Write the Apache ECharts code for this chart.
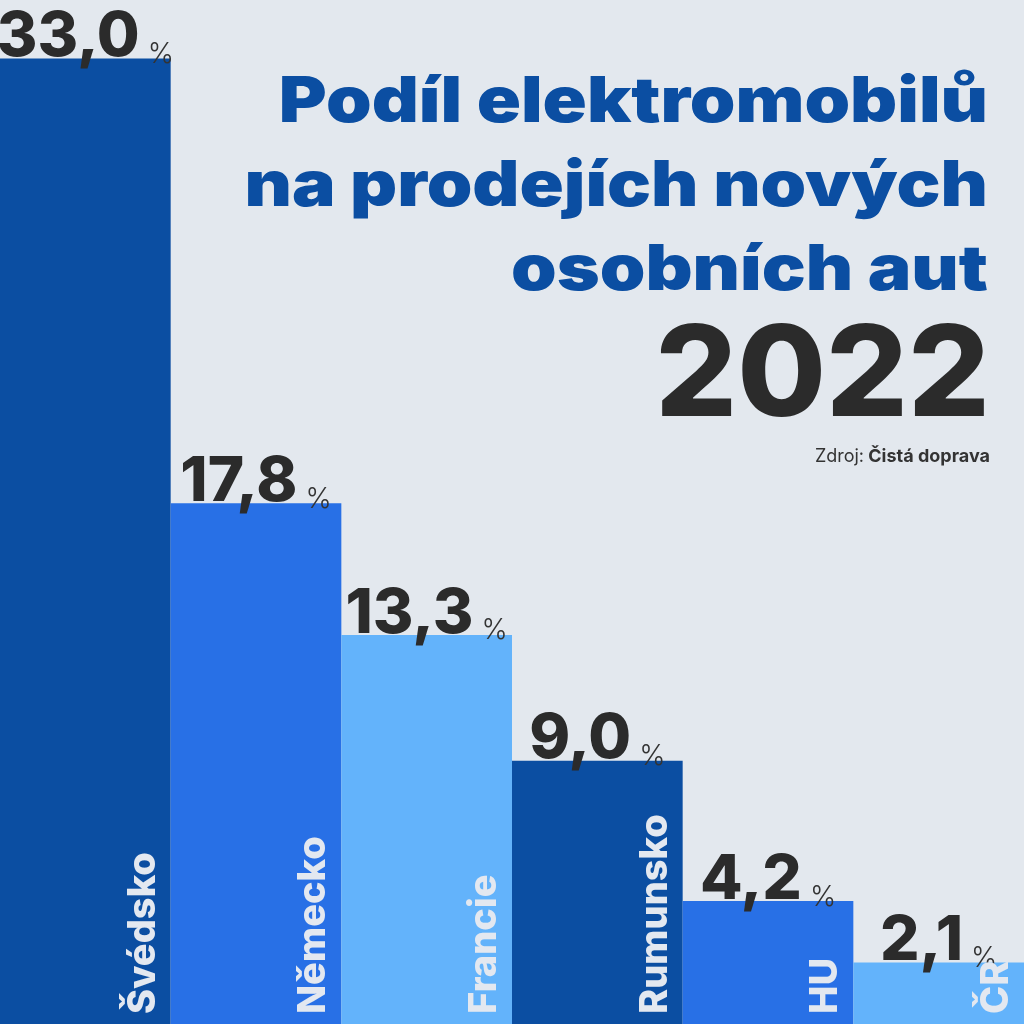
<!DOCTYPE html>
<html>
<head>
<meta charset="utf-8">
<script src="https://cdn.jsdelivr.net/npm/echarts@6/dist/echarts.min.js"></script>
<style>
  html, body { margin: 0; padding: 0; background: #e3e8ee; }
  #chart { width: 1024px; height: 1024px; }
</style>
</head>
<body>
<div id="chart"></div>
<script>
var countries = ['Švédsko', 'Německo', 'Francie', 'Rumunsko', 'HU', 'ČR'];
var shares = [33.0, 17.8, 13.3, 9.0, 4.2, 2.1];
var barColors = ['#0b4ea2', '#2870e6', '#63b3fb', '#0b4ea2', '#2870e6', '#63b3fb'];
var titleLines = ['Podíl elektromobilů', 'na prodejích nových', 'osobních aut'];
var yearText = '2022';

var dom = document.getElementById('chart');
var myChart = echarts.init(dom);

// heading is a wide heavy face in the original, so stretch Inter a bit
var titleSize = 63;
var titleBaselines = [127, 211, 295];
var graphics = titleLines.map(function (line, i) {
    return {
        type: 'text',
        x: 988,
        y: titleBaselines[i] - 0.377 * titleSize,
        scaleX: 1.16,
        z: 10,
        style: {
            text: line,
            fill: '#0b4ea2',
            font: '900 ' + titleSize + 'px Inter',
            textAlign: 'right',
            textVerticalAlign: 'middle',
            align: 'right',
            verticalAlign: 'middle'
        }
    };
});
graphics.push({
    type: 'text',
    x: 990,
    y: 426 - 0.377 * 126,
    scaleX: 1.02,
    z: 10,
    style: {
        text: yearText,
        fill: '#2b2b2b',
        font: '800 126px Inter',
        textAlign: 'right',
        textVerticalAlign: 'middle',
        align: 'right',
        verticalAlign: 'middle'
    }
});

var option = {
    backgroundColor: '#e3e8ee',
    textStyle: { fontFamily: 'Inter' },
    title: {
        text: '{a|Zdroj:} {b|Čistá doprava}',
        right: 29,
        top: 443,
        z: 10,
        textStyle: {
            rich: {
                a: { fontFamily: 'Inter', fontSize: 18, fontWeight: 'normal', color: '#333333' },
                b: { fontFamily: 'Inter', fontSize: 18, fontWeight: 'bold', color: '#333333' }
            }
        }
    },
    graphic: graphics,
    grid: { left: 0, right: 0, top: 0, bottom: 0 },
    xAxis: {
        type: 'category',
        data: countries,
        show: false
    },
    yAxis: {
        type: 'value',
        min: 0,
        max: 35,
        show: false
    },
    series: [
        {
            type: 'bar',
            barCategoryGap: 0,
            data: shares.map(function (v, i) {
                return { value: v, itemStyle: { color: barColors[i] } };
            }),
            label: {
                show: true,
                position: 'top',
                distance: -10,
                formatter: function (p) {
                    return '{v|' + p.value.toFixed(1).replace('.', ',') + '}{p|%}';
                },
                rich: {
                    v: {
                        fontFamily: 'Inter',
                        fontSize: 62,
                        fontWeight: 800,
                        lineHeight: 62,
                        color: '#2b2b2b'
                    },
                    p: {
                        fontFamily: 'Inter',
                        fontSize: 28,
                        fontWeight: 300,
                        lineHeight: 56,
                        verticalAlign: 'bottom',
                        padding: [0, 0, 0, 8],
                        color: '#333333'
                    }
                }
            },
            z: 2
        },
        {
            type: 'bar',
            barGap: '-100%',
            barCategoryGap: 0,
            silent: true,
            data: shares,
            itemStyle: { color: 'rgba(0,0,0,0)' },
            label: {
                show: true,
                position: ['84%', '100%'],
                rotate: 90,
                align: 'left',
                verticalAlign: 'middle',
                padding: [0, 0, 0, 10],
                formatter: '{b}',
                fontFamily: 'Inter',
                fontSize: 38,
                fontWeight: 800,
                color: '#e3e8f0'
            },
            z: 3
        }
    ]
};

if (option && typeof option === 'object') {
    myChart.setOption(option, true);
}
</script>
</body>
</html>
